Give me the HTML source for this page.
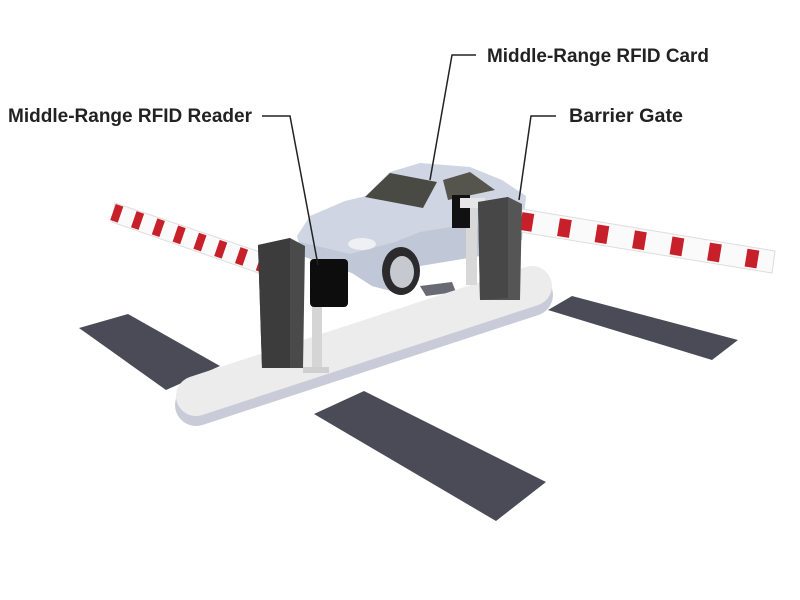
<!DOCTYPE html>
<html><head><meta charset="utf-8"><style>
html,body{margin:0;padding:0;background:#fff;width:800px;height:600px;overflow:hidden}
svg{display:block}
text{font-family:"Liberation Sans Narrow","Liberation Sans",sans-serif;font-weight:bold;font-size:19px;fill:#222}
</style></head><body>
<svg width="800" height="600" viewBox="0 0 800 600" xmlns="http://www.w3.org/2000/svg">
<!-- ground strips -->
<polygon points="79,328 128,314 220,366 166,390" fill="#4b4b57"/>
<polygon points="314,414 364,391 546,482 496,521" fill="#4b4b57"/>
<polygon points="548,310 572,296 738,340 712,360" fill="#4b4b57"/>
<polygon points="420,286 452,282 456,292 426,296" fill="#6a6a74"/>
<!-- island -->
<line x1="196" y1="405" x2="532" y2="295" stroke="#c9ccd8" stroke-width="42" stroke-linecap="round"/>
<line x1="196" y1="396" x2="532" y2="286" stroke="#ececec" stroke-width="40" stroke-linecap="round"/>
<!-- left arm -->
<polygon points="115,203 275,257 270,277 112,222" fill="#fafafa" stroke="#ddd" stroke-width="1"/>
<line x1="113" y1="212" x2="272" y2="267" stroke="#c8202a" stroke-width="17" stroke-dasharray="8 14"/>
<!-- car -->
<polygon points="297,236 310,216 345,201 366,196 390,172 420,163 470,167 502,180 526,196 522,240 480,256 420,266 395,292 372,286 352,273 302,256" fill="#cfd5e2"/>
<polygon points="300,242 350,254 395,242 420,232 470,224 522,232 522,240 480,256 420,266 395,292 372,286 352,273 302,256" fill="#c0c7d6"/>
<polygon points="365,197 390,173 437,182 423,208" fill="#4a4a44"/>
<polygon points="443,180 470,172 495,190 448,200" fill="#55554e"/>
<ellipse cx="362" cy="244" rx="14" ry="6" fill="#eef0f4"/>
<ellipse cx="401" cy="271" rx="19" ry="24" fill="#2b2b2e"/>
<ellipse cx="402" cy="272" rx="12" ry="16" fill="#c6c9d0"/>
<!-- card post -->
<rect x="466" y="205" width="11" height="80" fill="#d8d8d8"/>
<rect x="452" y="195" width="18" height="33" fill="#111"/>
<polygon points="460,198 485,198 485,208 460,208" fill="#e6e6e6"/>
<!-- right arm -->
<polygon points="522,209 775,251 772,273 520,232" fill="#fafafa" stroke="#ddd" stroke-width="1"/>
<line x1="521" y1="221" x2="773" y2="262" stroke="#c8202a" stroke-width="18" stroke-dasharray="12 26"/>
<!-- right cabinet -->
<polygon points="478,202 508,197 522,204 520,300 480,300" fill="#555"/>
<polygon points="478,202 508,197 508,298 480,300" fill="#474747"/>
<!-- left cabinet -->
<polygon points="258,245 290,238 305,246 303,368 262,368" fill="#4a4a4a"/>
<polygon points="258,245 290,238 290,368 262,368" fill="#3c3c3c"/>
<!-- reader -->
<rect x="312" y="290" width="10" height="82" fill="#d5d5d5"/>
<rect x="303" y="367" width="26" height="6" fill="#cfcfcf"/>
<rect x="310" y="259" width="38" height="48" rx="4" fill="#0d0d0d"/>
<!-- leaders -->
<polyline points="262,116 290,116 318,265" fill="none" stroke="#222" stroke-width="1.5"/>
<polyline points="476,55 452,55 430,180" fill="none" stroke="#222" stroke-width="1.5"/>
<polyline points="556,116 531,116 519,200" fill="none" stroke="#222" stroke-width="1.5"/>
<!-- labels -->
<text x="487" y="62" textLength="222" lengthAdjust="spacingAndGlyphs">Middle-Range RFID Card</text>
<text x="8" y="122" textLength="244" lengthAdjust="spacingAndGlyphs">Middle-Range RFID Reader</text>
<text x="569" y="122" textLength="114" lengthAdjust="spacingAndGlyphs">Barrier Gate</text>
</svg>
</body></html>
